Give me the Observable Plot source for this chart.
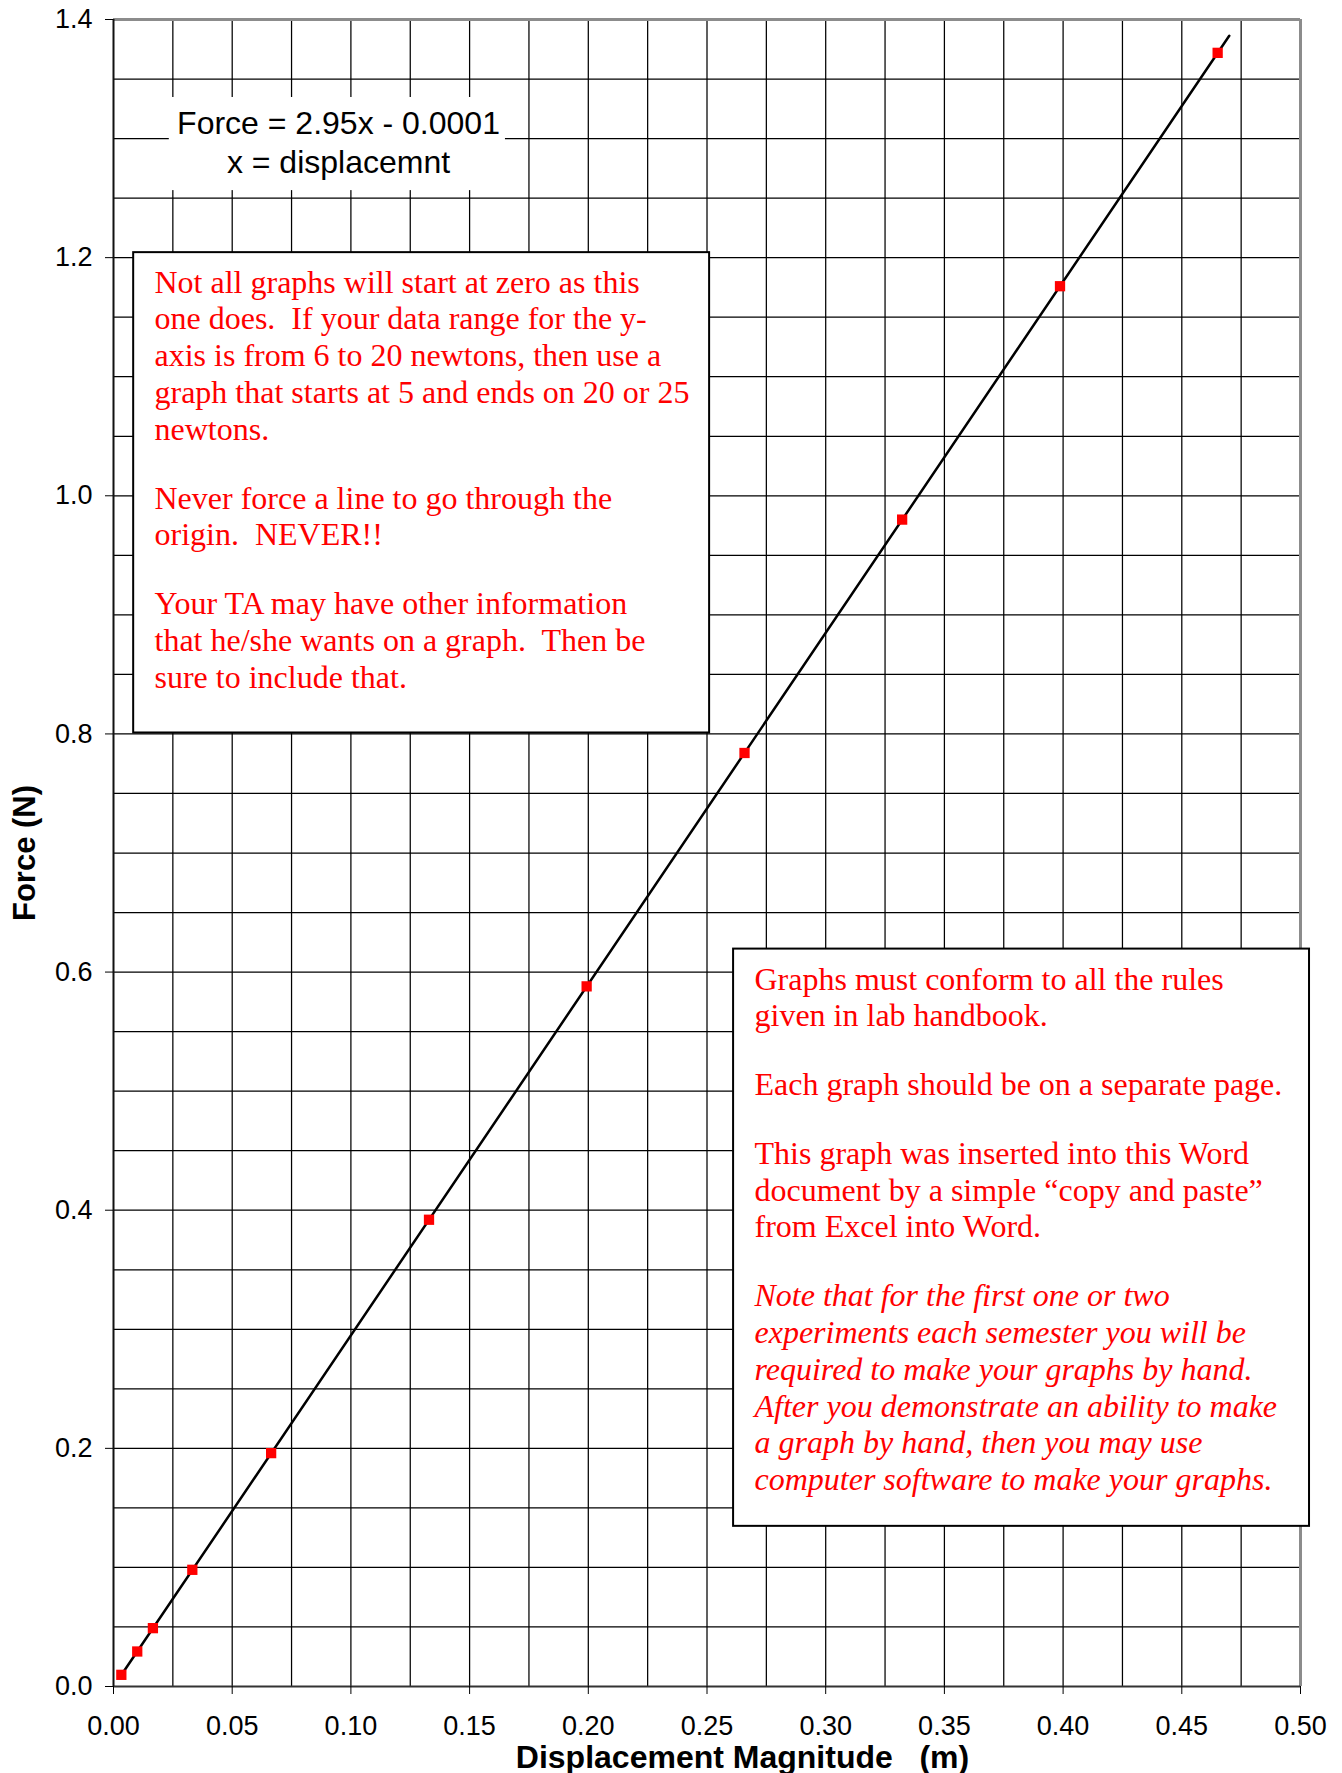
<!DOCTYPE html>
<html>
<head>
<meta charset="utf-8">
<script src="https://cdn.jsdelivr.net/npm/d3@7"></script>
<script src="https://cdn.jsdelivr.net/npm/@observablehq/plot@0.6"></script>
<style>
  html, body { margin: 0; padding: 0; background: #fff; }
  #chart svg { display: block; }
</style>
</head>
<body>
<div id="chart"></div>
<script>
// ---------- data ----------
const displacement = [0.0033, 0.0100, 0.0166, 0.0332, 0.0664, 0.1329, 0.1993, 0.2658, 0.3322, 0.3987, 0.4651];
const force        = [0.0098, 0.0294, 0.0490, 0.0980, 0.1960, 0.3920, 0.5880, 0.7840, 0.9800, 1.1760, 1.3720];

const xTicks = [0, 0.05, 0.10, 0.15, 0.20, 0.25, 0.30, 0.35, 0.40, 0.45, 0.50];
const yTicks = [0, 0.2, 0.4, 0.6, 0.8, 1.0, 1.2, 1.4];
const xGridLines = [0.025, 0.05, 0.075, 0.10, 0.125, 0.15, 0.175, 0.20, 0.225, 0.25, 0.275, 0.30,
                    0.325, 0.35, 0.375, 0.40, 0.425, 0.45, 0.475];
const yGridLines = [0.05, 0.10, 0.15, 0.20, 0.25, 0.30, 0.35, 0.40, 0.45, 0.50, 0.55, 0.60, 0.65,
                    0.70, 0.75, 0.80, 0.85, 0.90, 0.95, 1.00, 1.05, 1.10, 1.15, 1.20, 1.25, 1.30, 1.35];

// trendline (Excel linear fit shown on the chart)
const slope = 2.95;
const intercept = -0.0001;
const trendXRange = [0.0033, 0.47];

const xLabel = "Displacement Magnitude\u00a0\u00a0\u00a0(m)";
const yLabel = "Force (N)";
const equationLines = ["Force = 2.95x - 0.0001", "x = displacemnt"];

const note1 = [
  ["Not all graphs will start at zero as this",
   "one does.  If your data range for the y-",
   "axis is from 6 to 20 newtons, then use a",
   "graph that starts at 5 and ends on 20 or 25",
   "newtons."],
  ["Never force a line to go through the",
   "origin.  NEVER!!"],
  ["Your TA may have other information",
   "that he/she wants on a graph.  Then be",
   "sure to include that."]
];
const note2 = [
  ["Graphs must conform to all the rules",
   "given in lab handbook."],
  ["Each graph should be on a separate page."],
  ["This graph was inserted into this Word",
   "document by a simple \u201ccopy and paste\u201d",
   "from Excel into Word."],
  ["Note that for the first one or two",
   "experiments each semester you will be",
   "required to make your graphs by hand.",
   "After you demonstrate an ability to make",
   "a graph by hand, then you may use",
   "computer software to make your graphs."]
];
const note2Italic = [false, false, false, true];

// ---------- layout ----------
const W = 1342, H = 1773;
const M = {left: 113, right: 42, top: 19, bottom: 87};
const SANS = "Liberation Sans, Arial, sans-serif";
const SERIF = "Liberation Serif, Times New Roman, serif";

const points = displacement.map((d, i) => ({x: d, y: force[i]}));
const trend = trendXRange.map(x => ({x, y: slope * x + intercept}));

// annotation boxes in data units
const eqBox = {x1: 0.0235, x2: 0.1651, y1: 1.2563, y2: 1.3345};
const box1 = {x1: 0.0085, x2: 0.2511, y1: 0.8008, y2: 1.2042};
const box2 = {x1: 0.2612, x2: 0.5038, y1: 0.1345, y2: 0.6193};

const noteFont = 32, noteLH = 1.15, paraGap = 32;
function paragraphMarks(paras, left, firstBaseline, italic) {
  const marks = [];
  let b = firstBaseline;
  paras.forEach((lines, i) => {
    const anchorY = b - 0.71 * noteLH * noteFont;
    marks.push(Plot.text([lines.join("\n")], {
      frameAnchor: "top-left", dx: left - M.left, dy: anchorY - M.top,
      textAnchor: "start", lineAnchor: "top", lineHeight: noteLH,
      fontSize: noteFont, fontFamily: SERIF, fill: "#ff0000",
      fontStyle: italic && italic[i] ? "italic" : "normal"
    }));
    b += lines.length * noteLH * noteFont + paraGap;
  });
  return marks;
}

const eqFont = 32, eqLH = 1.24;

const chart = Plot.plot({
  width: W, height: H,
  marginLeft: M.left, marginRight: M.right, marginTop: M.top, marginBottom: M.bottom,
  style: {background: "#fff", color: "#000", overflow: "visible"},
  x: {domain: [0, 0.5]},
  y: {domain: [0, 1.4]},
  marks: [
    Plot.gridX(xGridLines, {stroke: "#000", strokeOpacity: 1, strokeWidth: 1.25}),
    Plot.gridY(yGridLines, {stroke: "#000", strokeOpacity: 1, strokeWidth: 1.25}),
    // plot area border
    Plot.ruleY([1.4], {stroke: "#8c8c8c", strokeWidth: 3}),
    Plot.ruleX([0.5], {stroke: "#8c8c8c", strokeWidth: 3}),
    Plot.ruleY([0], {stroke: "#333", strokeWidth: 2}),
    Plot.ruleX([0], {stroke: "#111", strokeWidth: 2}),
    // axes
    Plot.axisX({ticks: xTicks, tickFormat: d3.format(".2f"), tickSize: 8, tickPadding: 21,
      fontSize: 27, fontFamily: SANS, label: null, stroke: "#000"}),
    Plot.axisY({ticks: yTicks, tickFormat: d3.format(".1f"), tickSize: 8, tickPadding: 13,
      fontSize: 27, fontFamily: SANS, label: null, stroke: "#000"}),
    // axis titles
    Plot.text([xLabel], {frameAnchor: "bottom", dx: 35.5, dy: 81.5, textAnchor: "middle", lineAnchor: "bottom",
      fontSize: 32, fontWeight: "bold", fontFamily: SANS, fill: "#000"}),
    Plot.text([yLabel], {frameAnchor: "left", dx: -88, dy: 0, rotate: -90, textAnchor: "middle", lineAnchor: "middle",
      fontSize: 31, fontWeight: "bold", fontFamily: SANS, fill: "#000"}),
    // equation label
    Plot.rect([eqBox], {x1: "x1", x2: "x2", y1: "y1", y2: "y2", fill: "#fff"}),
    Plot.text([equationLines.join("\n")], {frameAnchor: "top-left", dx: 225,
      dy: (133 - 0.71 * eqLH * eqFont) - M.top, textAnchor: "middle", lineAnchor: "top",
      lineHeight: eqLH, fontSize: eqFont, fontFamily: SANS, fill: "#000"}),
    // note boxes
    Plot.rect([box1], {x1: "x1", x2: "x2", y1: "y1", y2: "y2", fill: "#fff", stroke: "#000", strokeWidth: 2}),
    Plot.rect([box2], {x1: "x1", x2: "x2", y1: "y1", y2: "y2", fill: "#fff", stroke: "#000", strokeWidth: 2}),
    ...paragraphMarks(note1, 154, 292, null),
    ...paragraphMarks(note2, 754, 989, note2Italic),
    // trendline and data
    Plot.line(trend, {x: "x", y: "y", stroke: "#000", strokeWidth: 2.5}),
    Plot.dot(points, {x: "x", y: "y", symbol: "square", r: 5.8, fill: "#ff0000", stroke: "none"})
  ]
});
document.getElementById("chart").appendChild(chart);
</script>
</body>
</html>
